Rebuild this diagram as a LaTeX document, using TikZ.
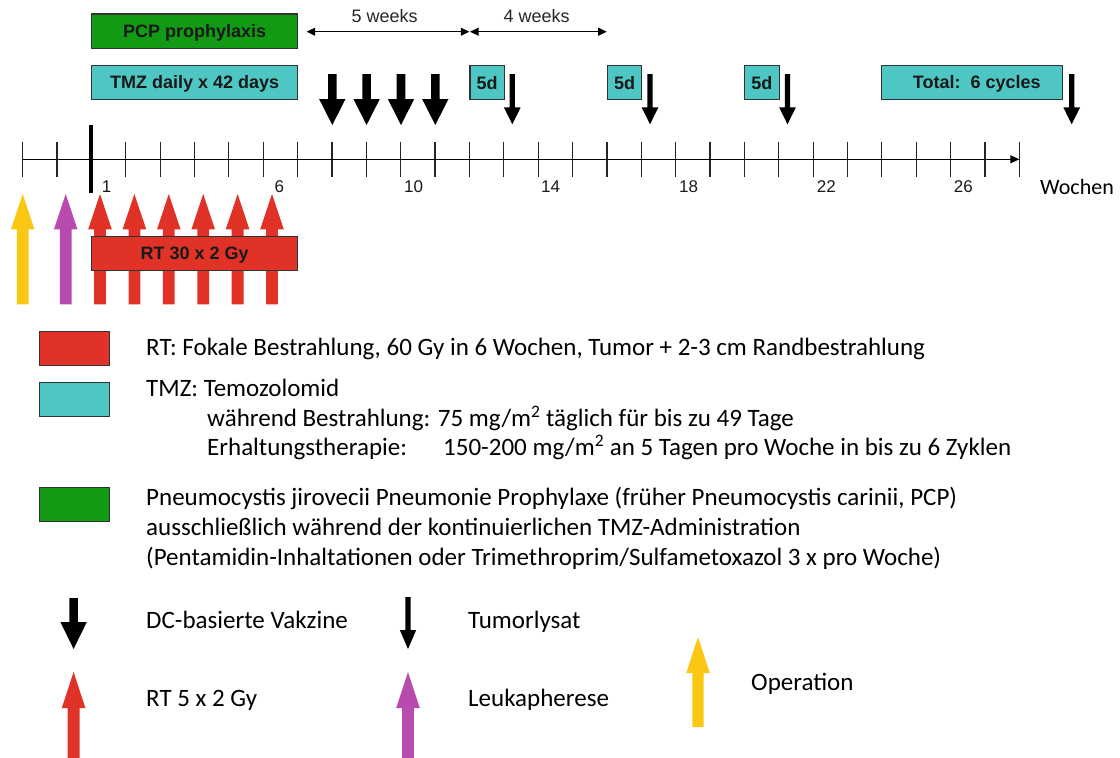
\documentclass[tikz,border=0pt]{standalone}
\usepackage{fontspec}
\setmainfont{Carlito}
\newfontfamily\arial{Liberation Sans}
\usetikzlibrary{arrows.meta}
\definecolor{rtred}{HTML}{E03226}
\definecolor{tmzcyan}{HTML}{4EC7C4}
\definecolor{pcpgreen}{HTML}{139A14}
\definecolor{opyellow}{HTML}{FAC814}
\definecolor{leumag}{HTML}{B84BAE}
% #1 colour, #2 x, #3 y tail, #4 y head base, #5 y tip, #6 half shaft, #7 half head
\newcommand{\blockarrow}[7]{%
  \fill[#1] (#2-#6,#3) -- (#2-#6,#4) -- (#2-#7,#4) -- (#2,#5) -- (#2+#7,#4) -- (#2+#6,#4) -- (#2+#6,#3) -- cycle;}
\tikzset{
  bar/.style={draw=black!80, line width=1.2pt, inner sep=0pt, text depth=0pt, font=\arial\bfseries\fontsize{18}{20}\selectfont, text=black!90},
  legbox/.style={draw=black!80, line width=1.2pt, inner sep=0pt, minimum width=69.6pt, minimum height=34pt, anchor=north west},
  legtext/.style={anchor=mid west, inner sep=0pt, yshift=-6pt, font=\fontsize{25}{30}\selectfont},
  axtext/.style={anchor=mid west, inner sep=0pt, font=\fontsize{22}{26}\selectfont},
  ticklbl/.style={font=\arial\fontsize{17}{19}\selectfont, inner sep=0pt, text=black!90},
  weeklbl/.style={font=\arial\fontsize{18}{20}\selectfont, inner sep=0pt, text=black!85},
  dimarrow/.style={{Triangle[length=8.5pt,width=8pt]}-{Triangle[length=8.5pt,width=8pt]}, line width=1pt},
}
\begin{document}
\begin{tikzpicture}[x=1pt,y=-1pt]
\useasboundingbox (0,0) rectangle (1120,758);

% ---- axis ----
\coordinate (axL) at (22.7,159.3);
\coordinate (axR) at (1019.3,159.3);
\foreach \i in {0,...,29} {
  \draw[line width=1.2pt, black!85] ({22.7+34.366*\i},142.3) -- ({22.7+34.366*\i},176.5);
}
\draw[line width=1.2pt, -{Triangle[length=9pt,width=8pt]}] (axL) -- (axR);
\draw[line width=4pt] (91.4,125) -- (91.4,192.7);

% tick labels
\node[ticklbl] (l1)  at (106.7,186.7) {1};
\node[ticklbl] (l6)  at (279.3,186.7) {6};
\node[ticklbl] (l10) at (413.6,186.7) {10};
\node[ticklbl] (l14) at (550.5,186.7) {14};
\node[ticklbl] (l18) at (688.6,186.7) {18};
\node[ticklbl] (l22) at (826.4,186.7) {22};
\node[ticklbl] (l26) at (963.3,186.7) {26};
\node[axtext] (woch) at (1040,191.7) {Wochen};

% ---- week spans ----
\coordinate (w5a) at (306.7,31.7);
\coordinate (w5b) at (469.3,31.7);
\coordinate (w4a) at (470.0,31.7);
\coordinate (w4b) at (606.7,31.7);
\draw[dimarrow] (w5a) -- (w5b);
\draw[dimarrow] (w4a) -- (w4b);
\node[weeklbl] (t5w) at (384.7,15.7) {5 weeks};
\node[weeklbl] (t4w) at (536.7,15.7) {4 weeks};

% ---- bars ----
\node[bar, fill=pcpgreen, minimum width=206.3pt, minimum height=34.3pt] (pcp) at (194.6,31.2) {PCP prophylaxis};
\node[bar, fill=tmzcyan, minimum width=206.3pt, minimum height=34pt] (tmz) at (194.6,82.4) {TMZ daily x 42 days};
\node[bar, fill=tmzcyan, minimum width=34.3pt, minimum height=34pt] (c1) at (487.2,82.5) {5d};
\node[bar, fill=tmzcyan, minimum width=34.7pt, minimum height=34pt] (c2) at (624.5,82.5) {5d};
\node[bar, fill=tmzcyan, minimum width=35pt, minimum height=34pt] (c3) at (761.8,82.5) {5d};
\node[bar, fill=tmzcyan, minimum width=181pt, minimum height=34pt] (tot) at (972.2,82.2) {\hspace*{9pt}Total:\ \ 6 cycles};

% DC vaccine arrows
\foreach \x in {332.3,366.6,401.0,435.3} {
  \blockarrow{black}{\x}{74}{99}{125}{4.3}{13.2}
}
% tumour lysate arrows
\foreach \x in {512.3,650.0,787.5,1071.7} {
  \blockarrow{black}{\x}{74}{107.3}{124.3}{2.6}{8.4}
}

% ---- arrows below axis ----
\blockarrow{opyellow}{22.7}{304.3}{229.3}{194}{5.9}{11.8}
\blockarrow{leumag}{65.7}{304.3}{229.3}{194}{5.9}{11.8}
\foreach \x in {100,134.4,168.8,203.2,237.6,272} {
  \blockarrow{rtred}{\x}{304.3}{229.3}{194}{5.9}{11.8}
}
\node[bar, fill=rtred, minimum width=206pt, minimum height=34pt] (rt) at (194.7,253.7) {RT 30 x 2 Gy};

% ---- legend ----
\node[legbox, fill=rtred] (kr) at (39,330.7) {};
\node[legbox, fill=tmzcyan] (kc) at (39,382) {};
\node[legbox, fill=pcpgreen] (kg) at (39,486.7) {};

\node[legtext] (trt) at (146,347) {RT: Fokale Bestrahlung, 60 Gy in 6 Wochen, Tumor + 2-3 cm Randbestrahlung};
\node[legtext] (ttmz) at (146,388) {TMZ: Temozolomid};
\node[legtext] (tw) at (207,418) {während Bestrahlung: 75 mg/m\textsuperscript{2} täglich für bis zu 49 Tage};
\node[legtext] (te) at (207,447) {\makebox[236pt][l]{Erhaltungstherapie:}150-200 mg/m\textsuperscript{2} an 5 Tagen pro Woche in bis zu 6 Zyklen};
\node[legtext] (tp1) at (146,497) {Pneumocystis jirovecii Pneumonie Prophylaxe (früher Pneumocystis carinii, PCP)};
\node[legtext] (tp2) at (146,527) {ausschließlich während der kontinuierlichen TMZ-Administration};
\node[legtext] (tp3) at (146,557) {(Pentamidin-Inhaltationen oder Trimethroprim/Sulfametoxazol 3 x pro Woche)};

\blockarrow{black}{73.6}{598}{622}{649}{4.3}{13.2}
\node[legtext] (tdc) at (146,620) {DC-basierte Vakzine};
\blockarrow{black}{408}{597}{630}{649}{2.6}{8.2}
\node[legtext] (ttl) at (468,620) {Tumorlysat};
\blockarrow{rtred}{73.6}{758}{708}{672}{5.9}{11.8}
\node[legtext] (trt5) at (146,698) {RT 5 x 2 Gy};
\blockarrow{leumag}{408}{758}{708}{672}{5.9}{11.8}
\node[legtext] (tleu) at (468,698) {Leukapherese};
\blockarrow{opyellow}{698}{727}{673}{637}{5.6}{11.8}
\node[legtext] (top) at (751,682) {Operation};
\end{tikzpicture}
\end{document}
